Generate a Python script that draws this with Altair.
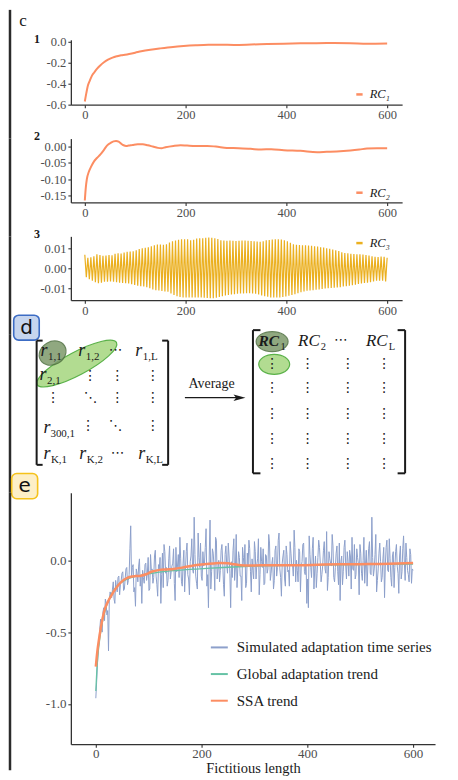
import altair as alt
import pandas as pd

FONT = "Liberation Serif"
SANS = "DejaVu Sans"
ORANGE = "#fc8d62"
GOLD = "#ebb020"
BLUE = "#8da0cb"
GREEN = "#66c2a5"
INK = "#1a1a1a"
AXIS = "#333333"
LABEL = "#4d4d4d"

X_TICKS = [0, 200, 400, 600]
MINUS_FIX = "replace(datum.label, '\u2212', '-')"

# ---------------- panel c : reconstructed components ----------------
rc1_x = [0, 3, 6, 10, 14, 19, 24, 30, 38, 46, 55, 64, 72, 80, 88, 100, 112, 130, 150, 175,
         196, 220, 245, 270, 296, 330, 362, 395, 428, 460, 494, 527, 560, 600]
rc1_y = [-0.57, -0.49, -0.42, -0.37, -0.325, -0.29, -0.258, -0.228, -0.195, -0.17,
         -0.15, -0.137, -0.128, -0.122, -0.115, -0.103, -0.09, -0.075, -0.062, -0.048,
         -0.04, -0.033, -0.028, -0.027, -0.029, -0.025, -0.02, -0.017, -0.014, -0.012,
         -0.011, -0.012, -0.017, -0.015]

rc2_x = [0, 2, 4, 8, 12, 18, 24, 31, 38, 44, 51, 57, 62, 67, 72, 77, 82, 87, 95, 105,
         115, 125, 135, 145, 152, 160, 176, 190, 203, 220, 243, 260, 282, 305, 329, 350,
         370, 395, 428, 461, 480, 500, 527, 545, 560, 580, 600]
rc2_y = [-0.165, -0.125, -0.1, -0.077, -0.063, -0.046, -0.035, -0.024, -0.01, 0.003,
         0.011, 0.016, 0.017, 0.015, 0.009, 0.004, 0.002, 0.003, 0.005, 0.007,
         0.007, 0.004, 0.0, -0.004, -0.005, -0.002, 0.002, 0.004, 0.003, 0.002,
         0.002, 0.0, -0.004, -0.005, -0.007, -0.009, -0.008, -0.011, -0.013, -0.017,
         -0.016, -0.015, -0.012, -0.009, -0.006, -0.005, -0.005]

# RC3 oscillation: upper peaks (x = 0, 6, ..., 600) and lower peaks (x = 3, 9, ..., 597), in 1e-4
rc3_top_e4 = [67, 52, 55, 60, 70, 66, 62, 63, 66, 64, 72, 74, 73, 78, 82, 83, 84, 90, 96, 100,
              102, 104, 110, 115, 118, 118, 117, 120, 128, 135, 138, 142, 144, 145, 144, 140,
              142, 148, 150, 150, 152, 153, 152, 150, 146, 140, 138, 137, 138, 137, 136, 137,
              138, 138, 137, 136, 134, 133, 132, 135, 139, 141, 143, 145, 145, 143, 140, 135,
              127, 120, 117, 116, 115, 114, 113, 112, 110, 108, 105, 103, 100, 97, 93, 90, 86,
              80, 76, 74, 72, 71, 70, 69, 68, 66, 63, 60, 57, 56, 58, 57, 52]
rc3_bot_e4 = [45, 55, 62, 70, 75, 72, 68, 67, 66, 68, 70, 72, 74, 75, 77, 80, 84, 88, 90, 92,
              95, 100, 106, 110, 112, 114, 116, 118, 126, 134, 140, 144, 146, 147, 147, 146,
              146, 147, 147, 148, 149, 150, 150, 148, 144, 140, 137, 134, 132, 130, 128, 127,
              126, 125, 125, 126, 128, 132, 136, 140, 143, 146, 147, 147, 146, 144, 141, 138,
              134, 130, 125, 120, 116, 113, 111, 110, 108, 106, 104, 102, 100, 99, 98, 97, 95,
              92, 90, 88, 85, 82, 79, 76, 74, 72, 70, 66, 63, 62, 63, 66]

# ---------------- panel e ----------------
# simulated series, x = 0, 3, ..., 600 (hundredths)
sim_y_pct = [-96, -73, -56, -41, -50, -33, -27, -38, -63, -22, -26,
             -15, -30, -19, -12, -24, -14, -8, -20, -6, -17,
             -10, 24, -5, -22, -32, -9, -4, -18, -30, -12,
             -3, -14, 2, -20, -7, -16, 3, -11, -25, -6,
             -30, 5, 11, -9, -18, 1, -13, -4, 8, -28,
             -8, 4, 16, -15, -2, -22, 6, -10, -24, 3,
             -6, 30, -11, -20, 2, 12, -14, -4, 9, -18,
             -33, 28, -8, 5, -21, 14, -6, -15, 7, -2,
             -25, 10, -9, 3, -33, -12, 15, -5, -19, 6,
             -11, -28, 2, 11, -16, -4, 8, -22, -7, 13,
             -13, 1, -24, 9, -5, -17, 4, -9, 18, -14,
             -2, -20, 7, -11, 14, -6, -25, 3, -13, 10,
             -8, -18, 5, -3, 21, -15, -7, 8, -22, -1,
             12, -10, -30, -33, 4, -12, 16, -6, -19, 2,
             9, -15, -4, 13, -9, -21, 6, -2, 18, -12,
             -5, 10, -17, -28, 3, -8, 14, -13, -1, 7,
             -20, -6, 11, -10, 2, -24, 5, -14, 16, -3,
             -18, 8, -9, 30, -11, 4, -22, -6, 12, -15,
             1, -26, 9, -7, 15, -12, 3, -19, 6, -4,
             -23, 10, -8, 17, -14, 2, -10, 8, -16, -7]
# simulated series, in-between samples x = 1.5, 4.5, ..., 598.5 (hundredths)
sim_mid_pct = [-85, -62, -48, -45, -36, -42, -30, -35, -28, -24,
               -20, -27, -14, -22, -11, -17, -9, -21, -13, -5,
               -14, 8, -12, -3, -19, -6, -15, 1, -11, -7,
               -16, -2, -9, -21, 4, -6, -12, 7, -17, -3,
               2, -10, -19, 6, -5, -14, 10, -8, -2, -16,
               9, -4, -12, 1, -18, 7, -7, 12, -13, -1,
               15, -9, 4, -16, 19, -5, -11, 6, -2, 22,
               -10, 3, -20, 8, -4, 16, -13, 0, -7, 11,
               -17, 4, -3, 12, -9, -1, 7, -14, 18, -6,
               2, -11, 9, -4, -19, 5, 14, -8, 1, -13,
               6, -3, 15, -10, -1, 8, -16, 3, -6, 12,
               -9, 2, -14, 10, -5, 19, -12, -2, 7, -18,
               4, -7, 13, -3, -11, 9, 0, -15, 6, -4,
               11, -8, 2, -13, 17, -5, 8, -20, 3, -9,
               14, -2, -10, 7, -6, 20, -12, 1, -4, 10,
               -15, 5, -8, 12, -1, -17, 9, -3, 6, -11,
               3, 16, -7, -13, 8, -2, 11, -9, 0, -16,
               7, -4, 13, -10, 2, -6, 18, -14, 5, -1,
               -12, 9, -3, 14, -8, 1, -18, 6, -5, 11,
               -9, 3, -13, 8, -2, 12, -7, -15, 4, -6]
glob_x = [0, 2, 4, 7, 10, 14, 19, 25, 32, 40, 50, 60, 72, 85, 100, 120, 140, 160, 185, 210,
          240, 270, 300, 340, 400, 460, 530, 600]
glob_y = [-0.91, -0.76, -0.66, -0.56, -0.48, -0.40, -0.33, -0.27, -0.22, -0.18, -0.15, -0.13,
          -0.115, -0.105, -0.095, -0.082, -0.074, -0.068, -0.062, -0.056, -0.05, -0.045,
          -0.041, -0.037, -0.034, -0.031, -0.029, -0.027]
ssa_x = [0, 3, 6, 9, 13, 18, 24, 30, 36, 42, 50, 58, 66, 75, 85, 95, 105, 116, 130, 147,
         165, 185, 205, 222, 236, 250, 262, 274, 290, 320, 360, 387, 420, 460, 500, 540, 570, 600]
ssa_y = [-0.74, -0.63, -0.55, -0.48, -0.40, -0.33, -0.28, -0.24, -0.205, -0.175, -0.145, -0.125,
         -0.115, -0.11, -0.107, -0.097, -0.08, -0.07, -0.064, -0.06, -0.05, -0.036, -0.028,
         -0.022, -0.018, -0.021, -0.028, -0.034, -0.036, -0.035, -0.034, -0.034, -0.031,
         -0.028, -0.027, -0.025, -0.022, -0.018]
E_SERIES = ["Simulated adaptation time series", "Global adaptation trend", "SSA trend"]
E_COLORS = [BLUE, GREEN, ORANGE]

# ---------------- panel d (diagram, in diagram units) ----------------
brk_x1 = [35.7, 35.7, 35.7, 167.5, 161.5, 161.5, 252.5, 252.5, 252.5, 405, 397.5, 397.5, 184.3]
brk_y1 = [339.5, 339.5, 464, 339.5, 339.5, 464, 329, 329, 472.5, 329, 329, 472.5, 396.7]
brk_x2 = [35.7, 41.7, 41.7, 167.5, 167.5, 167.5, 252.5, 260, 260, 405, 405, 405, 238]
brk_y2 = [464, 339.5, 464, 464, 339.5, 464, 472.5, 329, 472.5, 472.5, 329, 472.5, 396.7]
brk_w = [2, 2, 2, 2, 2, 2, 2, 2, 2, 2, 2, 2, 1.2]

main_txt = ["r", "r", "r", "r", "r", "r", "r", "r", "RC", "RC"]
main_x = [39.5, 77.5, 134.5, 38.5, 42.5, 42.5, 78.5, 137.5, 297.7, 365.7]
main_y = [355, 355, 355, 379, 432, 458, 458, 458, 345, 345]
main_fs = [18, 18, 18, 18, 18, 18, 18, 18, 17, 17]
bold_txt = ["RC"]
bold_x = [258]
bold_y = [345]
sub_txt = ["1,1", "1,2", "1,L", "2,1", "300,1", "K,1", "K,2", "K,L", "1", "2", "L"]
sub_x = [47, 85, 142, 46, 49.5, 50, 86, 145, 280, 320.5, 388.5]
sub_y = [359, 359, 359, 383, 436, 462, 462, 462, 349, 349, 349]
sub_fs = [11, 11, 11, 11, 11, 11, 11, 11, 10.5, 10.5, 10.5]
dot_txt = ["⋯", "⋮", "⋮", "⋮", "⋮", "⋱", "⋮", "⋮", "⋮", "⋱", "⋮", "⋯", "⋯"]
dot_x = [115, 89.3, 116.7, 152.3, 52.3, 90, 116.7, 152.3, 87.3, 115, 152.3, 117, 340.7]
dot_y = [349, 374.5, 374.5, 374.5, 396.7, 396.7, 396.7, 396.7, 424.8, 424.8, 424.8, 451.7, 339]
rm_cols = [271.7, 307.3, 347.7, 384]
rm_rows = [362.5, 386.5, 413, 438, 463]

ell_x = [76, 51.7, 273.8, 271.7]
ell_y = [362.5, 352, 363.3, 340.5]
ell_a = [45, 14, 15.5, 16]
ell_b = [11.5, 11.5, 10, 10]
ell_angle = [332, 330, 0, 0]
ell_fill = ["#a5d67e", "#7d9a6b", "#a5d67e", "#7d9a6b"]
ell_stroke = ["#3fa52a", "#4e6f3f", "#3fa52a", "#4e6f3f"]

badge_x1 = [12.7, 10.7]
badge_y1 = [314, 472.7]
badge_x2 = [38.3, 36.7]
badge_y2 = [339, 498]
badge_fill = ["#c6d5ee", "#fdefc7"]
badge_stroke = ["#3c6cc4", "#f5c21b"]
badge_txt = ["d", "e"]
badge_cx = [25.5, 23.7]
badge_cy = [326.5, 485.3]

# ---------------- helpers ----------------
C_XDOM = [-27.7, 629.7]
C_W = 332


def frame(top, bottom):
    return alt.Chart(pd.DataFrame({"k": [0]})).mark_rule(color="#2b2b2b", strokeWidth=2.5).encode(
        x=alt.value(-61), y=alt.value(top), y2=alt.value(bottom))


def label_text(t, dx, dy, size, weight="normal", font=FONT):
    return alt.Chart(pd.DataFrame({"t": [t]})).mark_text(
        fontSize=size, fontWeight=weight, font=font, color=INK, align="center",
        baseline="alphabetic").encode(text="t:N", x=alt.value(dx), y=alt.value(dy))


def c_panel(df, label, color, ydom, yticks, yfmt, leg_y, interp, sw, h):
    return alt.Chart(df).mark_line(strokeWidth=sw, interpolate=interp).encode(
        x=alt.X("x:Q", scale=alt.Scale(domain=C_XDOM, nice=False, zero=False),
                axis=alt.Axis(values=X_TICKS, title=None, labelFont=FONT, labelPadding=1)),
        y=alt.Y("y:Q", scale=alt.Scale(domain=ydom, nice=False, zero=False),
                axis=alt.Axis(values=yticks, format=yfmt, labelExpr=MINUS_FIX, title=None,
                              labelFont=FONT)),
        color=alt.Color("s:N", scale=alt.Scale(domain=[label], range=[color]),
                        legend=alt.Legend(title=None, orient="none", legendX=283, legendY=leg_y,
                                          symbolType="stroke", symbolSize=40, symbolStrokeWidth=2.5,
                                          labelFont=FONT, labelFontSize=12.5, labelFontStyle="italic",
                                          labelColor=INK, labelOffset=4)),
    )


# ---------------- build panel c ----------------
df1 = pd.DataFrame({"x": rc1_x, "y": rc1_y, "s": "RC₁"})
c1 = alt.layer(
    frame(-30, 99),
    c_panel(df1, "RC₁", ORANGE, [-0.6, 0.02], [-0.6, -0.4, -0.2, 0.0], ".1f", 48.5, "monotone", 2, 65),
    label_text("c", -48, -14, 17),
    label_text("1", -34, 3, 12, "bold"),
).properties(width=C_W, height=65)

df2 = pd.DataFrame({"x": rc2_x, "y": rc2_y, "s": "RC₂"})
c2 = alt.layer(
    frame(0, 98),
    c_panel(df2, "RC₂", ORANGE, [-0.171, 0.0245], [-0.15, -0.10, -0.05, 0.0], ".2f", 48, "monotone", 2, 64),
    label_text("2", -34, 1.5, 12, "bold"),
).properties(width=C_W, height=64)

rc3_x, rc3_y = [], []
for i, v in enumerate(rc3_top_e4):
    rc3_x.append(6 * i)
    rc3_y.append(v / 10000)
    if i < len(rc3_bot_e4):
        rc3_x.append(6 * i + 3)
        rc3_y.append(-rc3_bot_e4[i] / 10000)
df3 = pd.DataFrame({"x": rc3_x, "y": rc3_y, "s": "RC₃"})
c3 = alt.layer(
    frame(0, 98),
    c_panel(df3, "RC₃", GOLD, [-0.016, 0.0159], [-0.01, 0.0, 0.01], ".2f", 0.5, "linear", 1.2, 64),
    label_text("3", -34, 2, 12, "bold"),
).properties(width=C_W, height=64)

# ---------------- build panel d ----------------
DX = alt.Scale(domain=[70, 450], nice=False, zero=False)
DY = alt.Scale(domain=[333, 458], reverse=True, nice=False, zero=False)


def dx(field):
    return alt.X(field, scale=DX, axis=None)


def dy(field):
    return alt.Y(field, scale=DY, axis=None)


brk_df = pd.DataFrame({"x": brk_x1, "y": brk_y1, "x2": brk_x2, "y2": brk_y2, "w": brk_w})
brackets = alt.Chart(brk_df).mark_rule(color=INK).encode(
    x=dx("x:Q"), y=dy("y:Q"), x2="x2:Q", y2="y2:Q",
    strokeWidth=alt.StrokeWidth("w:Q", scale=None))

arrow_df = pd.DataFrame({"x": [239], "y": [396.7]})
arrowhead = alt.Chart(arrow_df).mark_point(
    shape="M -1 -0.55 L 1 0 L -1 0.55 L -0.55 0 Z", size=144, filled=True, color=INK, opacity=1
).encode(x=dx("x:Q"), y=dy("y:Q"))

avg = alt.Chart(pd.DataFrame({"t": ["Average"], "x": [211], "y": [383]})).mark_text(
    font=FONT, fontSize=14, color=INK, align="center", baseline="middle").encode(
    x=dx("x:Q"), y=dy("y:Q"), text="t:N")

ell_df = pd.DataFrame({
    "x": ell_x, "y": ell_y, "angle": ell_angle, "fill": ell_fill, "stroke": ell_stroke,
    "size": [(2 * a) ** 2 for a in ell_a],
    "shape": [f"M -1 0 A 1 {b / a:.3f} 0 1 1 1 0 A 1 {b / a:.3f} 0 1 1 -1 0 Z"
              for a, b in zip(ell_a, ell_b)],
})
ellipses = alt.Chart(ell_df).mark_point(filled=True, opacity=0.85, strokeWidth=1.2, strokeOpacity=1).encode(
    x=dx("x:Q"), y=dy("y:Q"),
    shape=alt.Shape("shape:N", scale=None),
    size=alt.Size("size:Q", scale=None),
    angle=alt.Angle("angle:Q", scale=None),
    fill=alt.Fill("fill:N", scale=None),
    stroke=alt.Stroke("stroke:N", scale=None))

badge_df = pd.DataFrame({"x": badge_x1, "y": badge_y1, "x2": badge_x2, "y2": badge_y2,
                         "fill": badge_fill, "stroke": badge_stroke})
badges = alt.Chart(badge_df).mark_rect(cornerRadius=5, strokeWidth=1.6).encode(
    x=dx("x:Q"), y=dy("y:Q"), x2="x2:Q", y2="y2:Q",
    fill=alt.Fill("fill:N", scale=None), stroke=alt.Stroke("stroke:N", scale=None))
badge_letters = alt.Chart(pd.DataFrame({"t": badge_txt, "x": badge_cx, "y": badge_cy})).mark_text(
    font=SANS, fontSize=20, color="#111111", align="center", baseline="middle").encode(
    x=dx("x:Q"), y=dy("y:Q"), text="t:N")

main_df = pd.DataFrame({"t": main_txt, "x": main_x, "y": main_y, "fs": main_fs})
mains = alt.Chart(main_df).mark_text(font=FONT, fontStyle="italic", color=INK, align="left",
                                     baseline="alphabetic").encode(
    x=dx("x:Q"), y=dy("y:Q"), text="t:N", size=alt.Size("fs:Q", scale=None))
bold_df = pd.DataFrame({"t": bold_txt, "x": bold_x, "y": bold_y})
bolds = alt.Chart(bold_df).mark_text(font=FONT, fontStyle="italic", fontWeight="bold", fontSize=15.5,
                                     color=INK, align="left", baseline="alphabetic").encode(
    x=dx("x:Q"), y=dy("y:Q"), text="t:N")
sub_df = pd.DataFrame({"t": sub_txt, "x": sub_x, "y": sub_y, "fs": sub_fs})
subs = alt.Chart(sub_df).mark_text(font=FONT, color=INK, align="left", baseline="alphabetic").encode(
    x=dx("x:Q"), y=dy("y:Q"), text="t:N", size=alt.Size("fs:Q", scale=None))

all_dot_txt = dot_txt + ["⋮"] * (len(rm_cols) * len(rm_rows))
all_dot_x = dot_x + [cx for ry in rm_rows for cx in rm_cols]
all_dot_y = dot_y + [ry for ry in rm_rows for cx in rm_cols]
dots = alt.Chart(pd.DataFrame({"t": all_dot_txt, "x": all_dot_x, "y": all_dot_y})).mark_text(
    font=SANS, fontSize=14, color=INK, align="center", baseline="middle").encode(
    x=dx("x:Q"), y=dy("y:Q"), text="t:N")

d_panel = alt.layer(
    frame(0, 159), badges, badge_letters, ellipses, brackets, arrowhead, avg,
    mains, bolds, subs, dots,
).properties(width=380, height=125)

# ---------------- build panel e ----------------
E_XDOM = [-47.2, 641.5]
E_YDOM = [-1.28, 0.47]
sim_x = [3 * i for i in range(len(sim_y_pct))] + [3 * i + 1.5 for i in range(len(sim_mid_pct))]
sim_y = [v / 100 for v in sim_y_pct] + [v / 100 for v in sim_mid_pct]
df_sim = pd.DataFrame({"x": sim_x, "y": sim_y, "s": E_SERIES[0]}).sort_values("x")
df_glob = pd.DataFrame({"x": glob_x, "y": glob_y, "s": E_SERIES[1]})
df_ssa = pd.DataFrame({"x": ssa_x, "y": ssa_y, "s": E_SERIES[2]})

e_color = alt.Color("s:N", scale=alt.Scale(domain=E_SERIES, range=E_COLORS),
                    legend=alt.Legend(title=None, orient="none", legendX=139.3, legendY=145.5,
                                      symbolType="stroke", symbolSize=289, symbolStrokeWidth=2,
                                      labelFont=FONT, labelFontSize=15, labelColor=INK,
                                      rowPadding=8.7, labelOffset=8, labelLimit=400))
e_x = alt.X("x:Q", scale=alt.Scale(domain=E_XDOM, nice=False, zero=False),
            axis=alt.Axis(values=X_TICKS, title="Fictitious length", titleFontSize=14.5,
                          titleFontWeight="normal", titleColor=INK, titlePadding=1.5,
                          labelFont=FONT, titleFont=FONT, labelFontSize=13, labelPadding=0))
e_y = alt.Y("y:Q", scale=alt.Scale(domain=E_YDOM, nice=False, zero=False),
            axis=alt.Axis(values=[-1.0, -0.5, 0.0], format=".1f", labelExpr=MINUS_FIX, title=None,
                          labelFont=FONT, labelFontSize=13))

sim_line = alt.Chart(df_sim).mark_line(strokeWidth=1).encode(x=e_x, y=e_y, color=e_color)
glob_line = alt.Chart(df_glob).mark_line(strokeWidth=1.3, interpolate="monotone").encode(x=e_x, y=e_y, color=e_color)
ssa_line = alt.Chart(df_ssa).mark_line(strokeWidth=2.5, interpolate="monotone").encode(x=e_x, y=e_y, color=e_color)

e_panel = alt.layer(frame(0, 278), sim_line, glob_line, ssa_line).properties(width=365, height=252)

chart = alt.vconcat(c1, c2, c3, d_panel, e_panel, spacing=34, bounds="flush").resolve_scale(
    color="independent").resolve_legend(color="independent").properties(
    padding={"left": 0, "top": -1, "right": 0, "bottom": 2}
).configure(font=FONT).configure_view(strokeWidth=0).configure_axis(
    domainColor=AXIS, domainWidth=1.3, tickColor=AXIS, tickWidth=1.1, tickSize=3,
    labelColor=LABEL, labelFont=FONT, labelFontSize=12.5, titleFont=FONT, grid=False,
    labelPadding=2
).configure_legend(labelFont=FONT).configure_text(font=FONT)

chart.save("out.html", embed_options={"renderer": "svg", "actions": False})
